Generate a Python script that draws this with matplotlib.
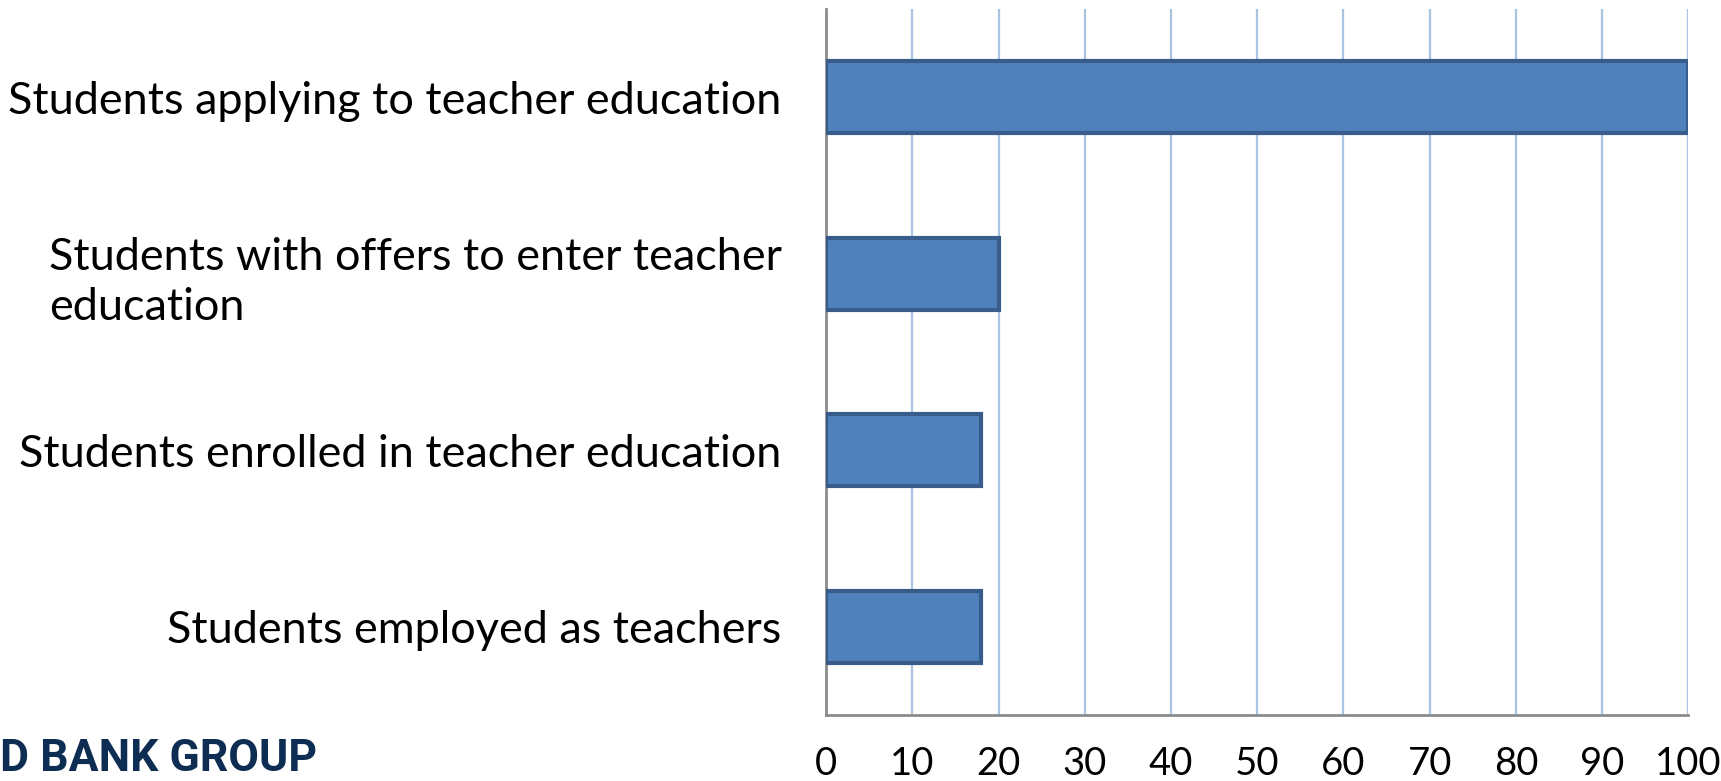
import matplotlib
matplotlib.use("Agg")
import matplotlib.pyplot as plt

categories = [
    "Students applying to teacher education",
    "Students with offers to enter teacher\neducation",
    "Students enrolled in teacher education",
    "Students employed as teachers",
]
values = [100, 20, 18, 18]
xticks = [0, 10, 20, 30, 40, 50, 60, 70, 80, 90, 100]

plt.rcParams['font.family'] = ['Lato', 'DejaVu Sans']

fig = plt.figure(figsize=(17.21, 7.81), dpi=100)
ax = fig.add_axes([0.48, 0.0845, 0.501, 0.904])

ypos = list(range(len(categories)))
ax.barh(ypos, values, height=0.41, color='#4f81bd', edgecolor='#385d8a',
        linewidth=3, zorder=3)
ax.set_ylim(len(categories) - 0.5, -0.5)
ax.set_xlim(0, 100)
ax.set_yticks(ypos)
ax.set_yticklabels(categories, fontsize=32.4)
for lab in ax.get_yticklabels():
    lab.set_multialignment('left')
    lab.set_linespacing(1.27)
ax.set_xticks(xticks)
ax.set_xticklabels([str(t) for t in xticks], fontsize=27.5)
ax.tick_params(axis='y', length=0, pad=32)
ax.tick_params(axis='x', length=0, pad=22)
ax.grid(axis='x', color='#a9c4e2', linewidth=1.6, zorder=0)
ax.grid(axis='y', visible=False)
for s in ['top', 'right']:
    ax.spines[s].set_visible(False)
for s in ['left', 'bottom']:
    ax.spines[s].set_color('#8c8c8c')
    ax.spines[s].set_linewidth(2)

fig.text(0.0, 0.028, "D BANK GROUP", fontsize=32, fontweight='bold',
         color='#0d2d52', family=['Roboto', 'DejaVu Sans'], ha='left', va='center')

fig.savefig("out.png", dpi=100)
